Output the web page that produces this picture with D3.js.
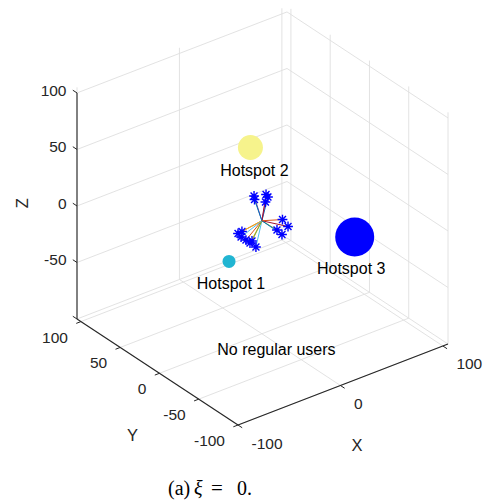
<!DOCTYPE html>
<html>
<head>
<meta charset="utf-8">
<script src="https://cdn.jsdelivr.net/npm/d3@7"></script>
<style>
  html, body { margin: 0; padding: 0; background: #fff; }
  svg { display: block; }
  text { font-family: "Liberation Sans", Arial, Helvetica, sans-serif; }
</style>
</head>
<body>
<svg id="chart" width="487" height="501"></svg>
<script>
// ---- axis limits and ticks ----
const xLim = [-100, 105];
const yLim = [-100, 105];
const zLim = [-100, 105];
const xTicks = [-100, 0, 100];
const yTicks = [-100, -50, 0, 50, 100];
const zTicks = [-100, -50, 0, 50, 100];
const xTickLabels = ["-100", "0", "100"];
const yTickLabels = ["-100", "-50", "0", "50", "100"];
const zTickLabels = ["", "-50", "0", "50", "100"];
const zAxisTop = 100;

// ---- hotspots ----
const hotspotNames = ["Hotspot 1", "Hotspot 2", "Hotspot 3"];
const hotspotX = [-16, -2, 63];
const hotspotY = [21, 12, -36];
const hotspotZ = [-40, 60, -20];

// ---- serving node (origin) and its linked users ----
const nodeX = 0, nodeY = 0, nodeZ = 0;
const userX = [6.9, -7.6, -3.3, -0.7, 5.9, -9.2, 16.0, 4.8, -8.8, -9.1, 0.7, -6.0, -9.0, 8.1, -3.7, 19.1];
const userY = [1.3, 20.5, 21.1, 9.1, -11.5, -4.4, -12.4, -19.3, 8.8, 3.3, -3.6, 4.8, 14.8, 5.3, 4.6, -1.3];
const userZ = [18, -18, -18, 18, -5, -18, -5, -5, -18, -18, 18, -18, -18, 18, 18, -5];

const noteText = "No regular users";
const notePos = [-42, 2, -100];

// ---- styling ----
const lineColors = ["#0072BD", "#D95319", "#EDB120", "#7E2F8E", "#77AC30", "#4DBEEE", "#A2142F"];
const hotspotColors = ["#21b5d2", "#f6f38c", "#0000ff"];
const hotspotRadius = [6.5, 12.5, 19.5];
const hotspotLabelDx = [2, 4, -3.5];
const hotspotLabelDy = [22, 22.5, 31];
const axisColor = "#262626";
const gridColor = "#dfdfdf";

// ---- 3D -> screen projection (fixed camera) ----
const origin = [238, 425];
const ex = [210, -81], ey = [-161, -106], ez = [0, -231.7];
const xs = d3.scaleLinear().domain(xLim).range([0, 1]);
const ys = d3.scaleLinear().domain(yLim).range([0, 1]);
const zs = d3.scaleLinear().domain(zLim).range([0, 1]);
function proj(x, y, z) {
  const u = xs(x), v = ys(y), w = zs(z);
  return [origin[0] + u * ex[0] + v * ey[0] + w * ez[0],
          origin[1] + u * ex[1] + v * ey[1] + w * ez[1]];
}
function unit(d) { const l = Math.hypot(d[0], d[1]); return [d[0] / l, d[1] / l]; }

const svg = d3.select("#chart");
const gGrid = svg.append("g");
const gAxes = svg.append("g");
const gData = svg.append("g");
const gText = svg.append("g");

function seg(g, a, b, color, width) {
  g.append("line")
    .attr("x1", a[0]).attr("y1", a[1]).attr("x2", b[0]).attr("y2", b[1])
    .attr("stroke", color).attr("stroke-width", width);
}

// ---- grid on floor and two back walls ----
const [x0, x1] = xLim, [y0, y1] = yLim, [z0, z1] = zLim;
xTicks.forEach(x => seg(gGrid, proj(x, y0, z0), proj(x, y1, z0), gridColor, 0.9));
yTicks.forEach(y => seg(gGrid, proj(x0, y, z0), proj(x1, y, z0), gridColor, 0.9));
xTicks.forEach(x => seg(gGrid, proj(x, y1, z0), proj(x, y1, z1), gridColor, 0.9));
zTicks.forEach(z => seg(gGrid, proj(x0, y1, z), proj(x1, y1, z), gridColor, 0.9));
yTicks.forEach(y => seg(gGrid, proj(x1, y, z0), proj(x1, y, z1), gridColor, 0.9));
zTicks.forEach(z => seg(gGrid, proj(x1, y0, z), proj(x1, y1, z), gridColor, 0.9));

// ---- axis lines ----
seg(gAxes, proj(x0, y0, z0), proj(x1, y0, z0), axisColor, 1.1);
seg(gAxes, proj(x0, y0, z0), proj(x0, y1, z0), axisColor, 1.1);
seg(gAxes, proj(x0, y1, z0), proj(x0, y1, zAxisTop), axisColor, 1.1);

const tickLen = 5;
const dX = unit([-ey[0], -ey[1]]);   // x ticks point away from the y range
const dY = unit([-ex[0], -ex[1]]);   // y ticks point away from the x range
const dZ = unit([ey[0], ey[1]]);     // z ticks point outward along +y
const tickFont = 15.5;

xTicks.forEach((x, i) => {
  const p = proj(x, y0, z0);
  seg(gAxes, p, [p[0] + dX[0] * tickLen, p[1] + dX[1] * tickLen], axisColor, 1);
  gText.append("text").attr("x", p[0] + 13.5).attr("y", p[1] + 18)
    .attr("dominant-baseline", "central").attr("text-anchor", "start")
    .attr("font-size", tickFont).attr("fill", axisColor).text(xTickLabels[i]);
});
yTicks.forEach((y, i) => {
  const p = proj(x0, y, z0);
  seg(gAxes, p, [p[0] + dY[0] * tickLen, p[1] + dY[1] * tickLen], axisColor, 1);
  gText.append("text").attr("x", p[0] - 13).attr("y", p[1] + 15.5)
    .attr("dominant-baseline", "central").attr("text-anchor", "end")
    .attr("font-size", tickFont).attr("fill", axisColor).text(yTickLabels[i]);
});
zTicks.forEach((z, i) => {
  const p = proj(x0, y1, z);
  seg(gAxes, p, [p[0] + dZ[0] * tickLen, p[1] + dZ[1] * tickLen], axisColor, 1);
  gText.append("text").attr("x", p[0] - 10.5).attr("y", p[1] - 2.5)
    .attr("dominant-baseline", "central").attr("text-anchor", "end")
    .attr("font-size", tickFont).attr("fill", axisColor).text(zTickLabels[i]);
});

// ---- axis titles ----
const xMid = proj((x0 + x1) / 2, y0, z0);
const yMid = proj(x0, (y0 + y1) / 2, z0);
const zMid = proj(x0, y1, (z0 + z1) / 2);
gText.append("text").attr("x", xMid[0] + 14).attr("y", xMid[1] + 60)
  .attr("dominant-baseline", "central").attr("text-anchor", "middle")
  .attr("font-size", 16.5).attr("fill", axisColor).text("X");
gText.append("text").attr("x", yMid[0] - 25).attr("y", yMid[1] + 63)
  .attr("dominant-baseline", "central").attr("text-anchor", "middle")
  .attr("font-size", 16.5).attr("fill", axisColor).text("Y");
gText.append("text")
  .attr("transform", `translate(${zMid[0] - 55},${zMid[1]}) rotate(-90)`)
  .attr("dominant-baseline", "central").attr("text-anchor", "middle")
  .attr("font-size", 16.5).attr("fill", axisColor).text("Z");

// ---- hotspots ----
hotspotNames.forEach((name, i) => {
  const p = proj(hotspotX[i], hotspotY[i], hotspotZ[i]);
  gData.append("circle").attr("cx", p[0]).attr("cy", p[1])
    .attr("r", hotspotRadius[i]).attr("fill", hotspotColors[i]);
  gText.append("text").attr("x", p[0] + hotspotLabelDx[i]).attr("y", p[1] + hotspotLabelDy[i])
    .attr("dominant-baseline", "central").attr("text-anchor", "middle")
    .attr("font-size", 16).attr("fill", "#000").text(name);
});

// ---- links from the node to each user ----
const nodeP = proj(nodeX, nodeY, nodeZ);
userX.forEach((ux, i) => {
  const p = proj(ux, userY[i], userZ[i]);
  seg(gData, nodeP, p, lineColors[i % lineColors.length], 1);
});

// ---- user markers (asterisks) ----
const r = 4.9;
const starPath = (() => {
  const parts = [];
  for (let k = 0; k < 4; k++) {
    const a = k * Math.PI / 4;
    const c = Math.cos(a) * r, s = Math.sin(a) * r;
    parts.push(`M${-c},${-s}L${c},${s}`);
  }
  return parts.join("");
})();
userX.forEach((ux, i) => {
  const p = proj(ux, userY[i], userZ[i]);
  gData.append("path").attr("d", starPath)
    .attr("transform", `translate(${p[0]},${p[1]})`)
    .attr("stroke", "#0000ff").attr("stroke-width", 1.4).attr("fill", "none");
});

// ---- note on the floor ----
const np = proj(notePos[0], notePos[1], notePos[2]);
gText.append("text").attr("x", np[0]).attr("y", np[1])
  .attr("dominant-baseline", "central").attr("text-anchor", "start")
  .attr("font-size", 16).attr("fill", "#000").text(noteText);

// ---- caption ----
const serif = "'Liberation Serif', 'Times New Roman', serif";
const cap = svg.append("g").attr("font-size", 20).attr("fill", "#000");
const capY = 495;
cap.append("text").attr("x", 168).attr("y", capY).style("font-family", serif).text("(a)");
cap.append("text").attr("x", 194).attr("y", capY).style("font-family", serif)
  .attr("font-style", "italic").text("ξ");
cap.append("text").attr("x", 211).attr("y", capY).style("font-family", serif)
  .attr("font-size", 21).text("=");
cap.append("text").attr("x", 237).attr("y", capY).style("font-family", serif).text("0.");
</script>
</body>
</html>
